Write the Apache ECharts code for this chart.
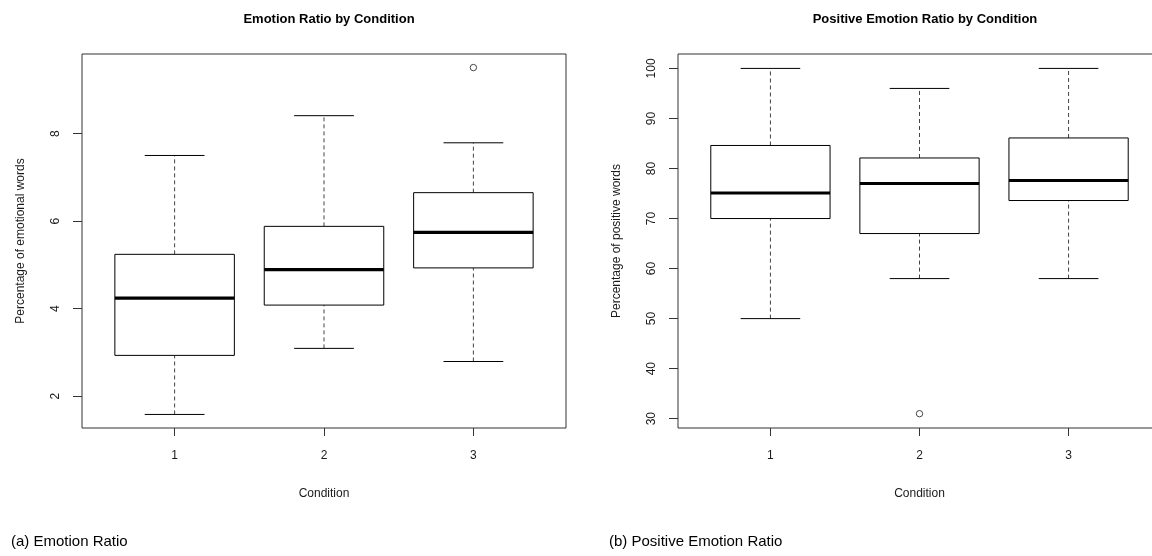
<!DOCTYPE html>
<html>
<head>
<meta charset="utf-8">
<script src="https://cdn.jsdelivr.net/npm/echarts@6/dist/echarts.min.js"></script>
<style>html,body{margin:0;padding:0;background:#fff;}#c{width:1152px;height:556px;}</style>
</head>
<body>
<div id="c"></div>
<script>
// ---- data ----
const categories = [1, 2, 3];
const xTickLabels = ['1', '2', '3'];
// Emotion ratio (percentage of emotional words)
const emoLow  = [1.58, 3.09, 2.79];
const emoQ1   = [2.93, 4.08, 4.93];
const emoMed  = [4.24, 4.89, 5.74];
const emoQ3   = [5.24, 5.88, 6.65];
const emoHigh = [7.50, 8.41, 7.79];
const emoOutliers = [[3, 9.51]];
const emoTicks = [2, 4, 6, 8];
// Positive emotion ratio (percentage of positive words)
const posLow  = [50, 58, 58];
const posQ1   = [70, 67, 73.6];
const posMed  = [75.1, 77, 77.6];
const posQ3   = [84.6, 82.1, 86.1];
const posHigh = [100, 96, 100];
const posOutliers = [[2, 31]];
const posTicks = [30, 40, 50, 60, 70, 80, 90, 100];

const FONT = '"Liberation Sans", Arial, sans-serif';
const TXT = '#1a1a1a';
const LINE = '#333';

function boxRows(low, q1, med, q3, high) {
  return categories.map((c, i) => [c, low[i], q1[i], med[i], q3[i], high[i]]);
}

function renderBox(params, api) {
  const x = api.value(0);
  const lo = api.coord([x, api.value(1)]);
  const q1 = api.coord([x, api.value(2)]);
  const md = api.coord([x, api.value(3)]);
  const q3 = api.coord([x, api.value(4)]);
  const hi = api.coord([x, api.value(5)]);
  const bl = api.coord([x - 0.4, 0])[0];
  const br = api.coord([x + 0.4, 0])[0];
  const cl = api.coord([x - 0.2, 0])[0];
  const cr = api.coord([x + 0.2, 0])[0];
  const cx = lo[0];
  const solid = { stroke: '#000', lineWidth: 1, fill: null };
  const dashed = { stroke: '#444', lineWidth: 1, lineDash: [4, 3], fill: null };
  return {
    type: 'group',
    children: [
      { type: 'line', shape: { x1: cx, y1: q3[1], x2: cx, y2: hi[1] }, style: dashed },
      { type: 'line', shape: { x1: cx, y1: lo[1], x2: cx, y2: q1[1] }, style: dashed },
      { type: 'line', shape: { x1: cl, y1: hi[1], x2: cr, y2: hi[1] }, style: solid },
      { type: 'line', shape: { x1: cl, y1: lo[1], x2: cr, y2: lo[1] }, style: solid },
      { type: 'rect', shape: { x: bl, y: q3[1], width: br - bl, height: q1[1] - q3[1] },
        style: { stroke: '#000', lineWidth: 1, fill: '#fff' } },
      { type: 'line', shape: { x1: bl, y1: md[1], x2: br, y2: md[1] },
        style: { stroke: '#000', lineWidth: 3.2 } }
    ]
  };
}

function renderOutlier(params, api) {
  const p = api.coord([api.value(0), api.value(1)]);
  return { type: 'circle', shape: { cx: p[0], cy: p[1], r: 3.2 },
    style: { stroke: '#333', lineWidth: 0.9, fill: null } };
}

function xAxisDef(gi) {
  return {
    type: 'value', gridIndex: gi, min: 0.38, max: 3.62,
    name: 'Condition', nameLocation: 'middle', nameGap: 60,
    nameTextStyle: { fontFamily: FONT, fontSize: 12, color: TXT },
    axisLine: { show: false },
    splitLine: { show: false },
    axisTick: { show: true, inside: false, length: 8, customValues: categories,
      lineStyle: { color: LINE, width: 1 } },
    axisLabel: { customValues: categories, margin: 22, fontFamily: FONT, fontSize: 12, color: TXT,
      formatter: v => xTickLabels[categories.indexOf(v)] }
  };
}

function yAxisDef(gi, min, max, ticks, name) {
  return {
    type: 'value', gridIndex: gi, min: min, max: max,
    name: name, nameLocation: 'middle', nameGap: 55,
    nameTextStyle: { fontFamily: FONT, fontSize: 12, color: TXT },
    axisLine: { show: false },
    splitLine: { show: false },
    axisTick: { show: true, length: 9, customValues: ticks, lineStyle: { color: LINE, width: 1 } },
    axisLabel: { customValues: ticks, rotate: 90, margin: 20, fontFamily: FONT, fontSize: 12, color: TXT }
  };
}

const chart = echarts.init(document.getElementById('c'), null, { renderer: 'canvas' });
chart.setOption({
  animation: false,
  backgroundColor: '#fff',
  title: [
    { text: 'Emotion Ratio by Condition', left: 324, top: 8, textAlign: 'center',
      textStyle: { fontFamily: FONT, fontSize: 13, fontWeight: 'bold', color: '#000' } },
    { text: 'Positive Emotion Ratio by Condition', left: 920, top: 8, textAlign: 'center',
      textStyle: { fontFamily: FONT, fontSize: 13, fontWeight: 'bold', color: '#000' } },
    { text: '(a) Emotion Ratio', left: 6, top: 529,
      textStyle: { fontFamily: FONT, fontSize: 15, fontWeight: 'normal', color: '#000' } },
    { text: '(b) Positive Emotion Ratio', left: 604, top: 529,
      textStyle: { fontFamily: FONT, fontSize: 15, fontWeight: 'normal', color: '#000' } }
  ],
  grid: [
    { left: 82, top: 54, width: 484, height: 374, outerBoundsMode: 'none',
      show: true, borderColor: LINE, borderWidth: 1, backgroundColor: 'transparent' },
    { left: 678, top: 54, width: 483, height: 374, outerBoundsMode: 'none',
      show: true, borderColor: LINE, borderWidth: 1, backgroundColor: 'transparent' }
  ],
  xAxis: [xAxisDef(0), xAxisDef(1)],
  yAxis: [
    yAxisDef(0, 1.27, 9.82, emoTicks, 'Percentage of emotional words'),
    yAxisDef(1, 28.14, 102.88, posTicks, 'Percentage of positive words')
  ],
  series: [
    { type: 'custom', xAxisIndex: 0, yAxisIndex: 0, renderItem: renderBox,
      encode: { x: 0, y: [1, 2, 3, 4, 5] }, data: boxRows(emoLow, emoQ1, emoMed, emoQ3, emoHigh) },
    { type: 'custom', xAxisIndex: 0, yAxisIndex: 0, renderItem: renderOutlier,
      encode: { x: 0, y: 1 }, data: emoOutliers },
    { type: 'custom', xAxisIndex: 1, yAxisIndex: 1, renderItem: renderBox,
      encode: { x: 0, y: [1, 2, 3, 4, 5] }, data: boxRows(posLow, posQ1, posMed, posQ3, posHigh) },
    { type: 'custom', xAxisIndex: 1, yAxisIndex: 1, renderItem: renderOutlier,
      encode: { x: 0, y: 1 }, data: posOutliers }
  ]
});
</script>
</body>
</html>
